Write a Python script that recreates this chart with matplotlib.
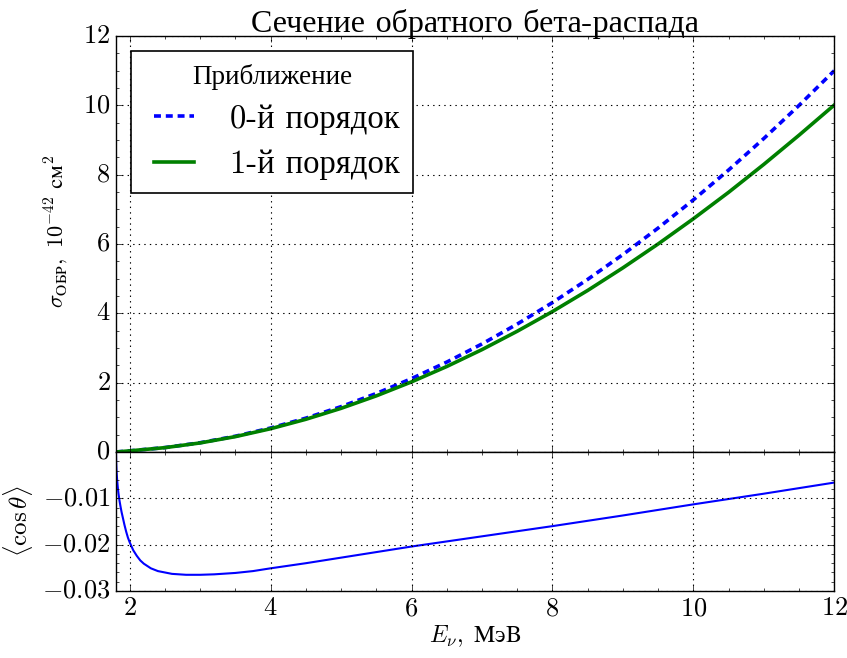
import numpy as np
import matplotlib
matplotlib.use('Agg')
import matplotlib.pyplot as plt
from matplotlib.ticker import MultipleLocator

plt.style.use('classic')
plt.rcParams['font.family'] = ['cmr10', 'Liberation Serif']
plt.rcParams['mathtext.fontset'] = 'cm'
plt.rcParams['axes.formatter.use_mathtext'] = True
plt.rcParams['figure.facecolor'] = 'white'
plt.rcParams['savefig.facecolor'] = 'white'

# Энергия нейтрино, МэВ (сечение)
E_sig = [1.806, 2.0, 2.5, 3.0, 3.5, 4.0, 4.5, 5.0, 5.5, 6.0, 6.5, 7.0, 7.5,
         8.0, 8.5, 9.0, 9.5, 10.0, 10.5, 11.0, 11.5, 12.0]
# 0-й порядок
sig0 = [0.0, 0.033, 0.127, 0.267, 0.455, 0.692, 0.976, 1.308, 1.688, 2.117,
        2.593, 3.117, 3.690, 4.310, 4.979, 5.696, 6.460, 7.273, 8.134, 9.043,
        9.999, 11.00]
# 1-й порядок
sig1 = [0.0, 0.0325, 0.125, 0.261, 0.443, 0.671, 0.943, 1.259, 1.619, 2.022,
        2.466, 2.953, 3.483, 4.051, 4.660, 5.312, 6.001, 6.728, 7.491, 8.297,
        9.139, 10.01]

# средний косинус угла вылета позитрона
E_cos = [1.806, 1.808, 1.812, 1.82, 1.83, 1.84, 1.855, 1.87, 1.885, 1.9, 1.925,
         1.95, 1.975, 2.0, 2.05, 2.1, 2.15, 2.2, 2.3, 2.4, 2.5, 2.6, 2.7, 2.8,
         2.9, 3.0, 3.2, 3.5, 3.75, 4.0, 4.5, 5.0, 6.0, 7.0, 8.0, 9.0, 10.0,
         11.0, 12.0]
cos_th = [-0.0005, -0.0022, -0.0038, -0.0057, -0.0075, -0.0089, -0.0105,
          -0.0118, -0.0130, -0.0140, -0.0157, -0.0172, -0.0185, -0.0195,
          -0.0212, -0.0224, -0.0234, -0.0241, -0.0251, -0.0257, -0.0260,
          -0.0263, -0.0264, -0.0265, -0.0265, -0.0265, -0.0264, -0.0261,
          -0.0257, -0.0251, -0.0240, -0.0228, -0.0204, -0.0182, -0.0160,
          -0.0137, -0.0113, -0.0090, -0.0066]

fig = plt.figure(figsize=(8.47, 6.58), dpi=100)
ax1 = fig.add_axes([0.137, 0.3131, 0.848, 0.6322])
ax2 = fig.add_axes([0.137, 0.1018, 0.848, 0.2113], sharex=ax1)

ax1.plot(E_sig, sig0, 'b--', lw=2.6, dashes=(5, 3.5), label='0-й порядок')
ax1.plot(E_sig, sig1, 'g-', lw=2.6, label='1-й порядок')
ax1.set_xlim(1.806, 12)
ax1.set_ylim(0, 12)
ax1.yaxis.set_major_locator(MultipleLocator(2))
ax1.yaxis.set_minor_locator(MultipleLocator(0.5))
ax1.xaxis.set_major_locator(MultipleLocator(2))
ax1.xaxis.set_minor_locator(MultipleLocator(0.5))
ax1.grid(True, color='k', linestyle=':', linewidth=0.8)
ax1.tick_params(labelbottom=False, labelsize=19)
ax1.set_title('Сечение обратного бета-распада', fontsize=23, pad=3)
ax1.set_ylabel(r'$\sigma_{\mathrm{ОБР}},\ 10^{-42}\ \mathrm{см}^2$', fontsize=16)
ax1.yaxis.set_label_coords(-0.064, 0.53)
leg = ax1.legend(loc='upper left', title='Приближение', fontsize=23.5,
                 handlelength=1.85, borderaxespad=0.45, labelspacing=0.45)
leg.get_title().set_fontsize(19.5)
leg.get_frame().set_linewidth(1.2)

ax2.plot(E_cos, cos_th, 'b-', lw=1.5)
ax2.set_ylim(-0.03, 0)
ax2.set_yticks([-0.03, -0.02, -0.01])
ax2.yaxis.set_minor_locator(MultipleLocator(0.002))
ax2.grid(True, color='k', linestyle=':', linewidth=0.8)
ax2.tick_params(labelsize=19)
ax2.set_ylabel(r'$\langle\cos\theta\rangle$', fontsize=18)
ax2.yaxis.set_label_coords(-0.113, 0.5)
ax2.set_xlabel(r'$E_\nu,\ \mathrm{МэВ}$', fontsize=17, labelpad=2)

fig.savefig('out.png', dpi=100)
